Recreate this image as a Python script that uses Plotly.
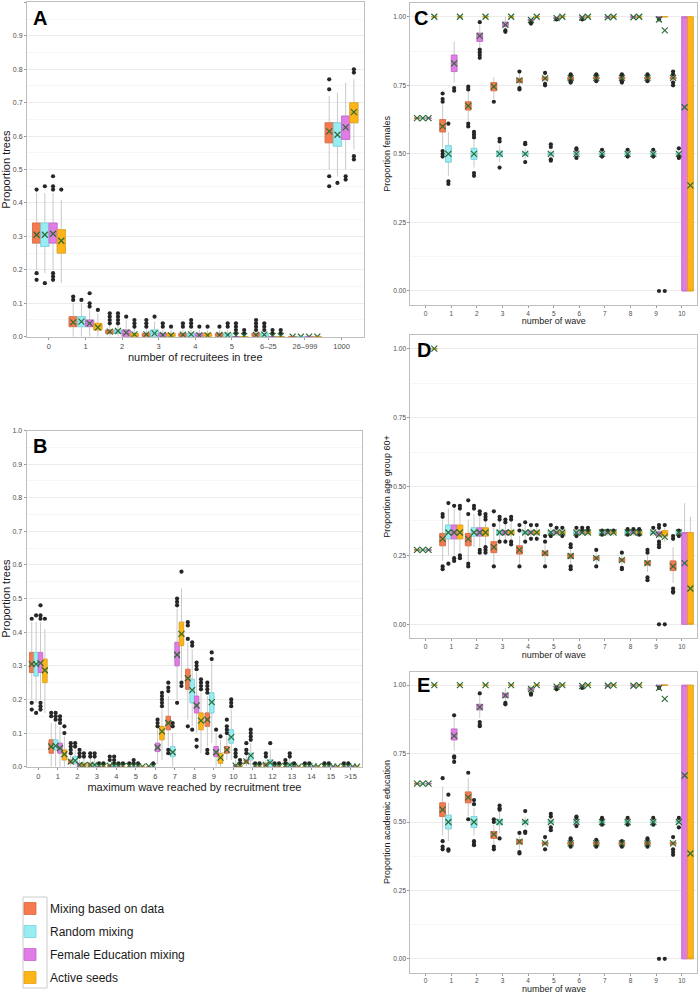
import plotly.graph_objects as go

SERIES = ["Mixing based on data", "Random mixing", "Female Education mixing", "Active seeds"]
FILL = ["#F47B4F", "#98EDF3", "#E07DE5", "#FDB517"]
EDGE = ["#DC6A40", "#74D6DE", "#C866CD", "#E5A00E"]
OFFSETS = [-0.3375, -0.1125, 0.1125, 0.3375]
BOXW = 0.225

# ---------------- Panel A: number of recruitees in tree ----------------
A_CATS = ["0", "1", "2", "3", "4", "5", "6\u201325", "26\u2013999", "1000"]
A_Q1 = [
    [0.28, 0.03, 0.01, 0.00, 0.00, 0.00, 0.00, 0.0, 0.58],
    [0.27, 0.03, 0.01, 0.00, 0.00, 0.00, 0.00, 0.0, 0.57],
    [0.28, 0.03, 0.00, 0.00, 0.00, 0.00, 0.00, 0.0, 0.59],
    [0.25, 0.02, 0.00, 0.00, 0.00, 0.00, 0.00, 0.0, 0.64],
]
A_MED = [
    [0.305, 0.04, 0.015, 0.005, 0.005, 0.005, 0.005, 0.0, 0.61],
    [0.305, 0.045, 0.015, 0.01, 0.005, 0.005, 0.005, 0.0, 0.60],
    [0.31, 0.04, 0.01, 0.005, 0.003, 0.0, 0.0, 0.0, 0.625],
    [0.29, 0.03, 0.005, 0.004, 0.004, 0.0, 0.0, 0.0, 0.67],
]
A_Q3 = [
    [0.34, 0.06, 0.02, 0.01, 0.01, 0.01, 0.01, 0.0, 0.64],
    [0.34, 0.06, 0.02, 0.02, 0.01, 0.01, 0.01, 0.0, 0.64],
    [0.34, 0.05, 0.02, 0.01, 0.01, 0.0, 0.0, 0.0, 0.66],
    [0.32, 0.04, 0.01, 0.01, 0.01, 0.0, 0.0, 0.0, 0.70],
]
A_LO = [
    [0.20, 0.0, 0.0, 0.0, 0.0, 0.0, 0.0, 0.0, 0.50],
    [0.19, 0.0, 0.0, 0.0, 0.0, 0.0, 0.0, 0.0, 0.48],
    [0.20, 0.0, 0.0, 0.0, 0.0, 0.0, 0.0, 0.0, 0.50],
    [0.16, 0.0, 0.0, 0.0, 0.0, 0.0, 0.0, 0.0, 0.56],
]
A_HI = [
    [0.43, 0.10, 0.035, 0.025, 0.02, 0.02, 0.02, 0.0, 0.72],
    [0.43, 0.10, 0.035, 0.045, 0.02, 0.02, 0.02, 0.0, 0.73],
    [0.43, 0.08, 0.05, 0.02, 0.02, 0.0, 0.0, 0.0, 0.76],
    [0.41, 0.07, 0.025, 0.02, 0.02, 0.0, 0.0, 0.0, 0.77],
]
A_MEAN = [
    [0.305, 0.043, 0.015, 0.007, 0.006, 0.005, 0.005, 0.0, 0.614],
    [0.305, 0.045, 0.017, 0.01, 0.007, 0.005, 0.006, 0.0, 0.604],
    [0.308, 0.04, 0.012, 0.005, 0.004, 0.003, 0.002, 0.0, 0.626],
    [0.287, 0.028, 0.007, 0.004, 0.004, 0.002, 0.002, 0.0, 0.672],
]
A_OUT = [
    [[0.44, 0.19, 0.17], [0.12, 0.11], [0.07, 0.06, 0.05, 0.04], [0.05, 0.04, 0.03], [0.04, 0.03], [0.03],
     [0.05, 0.04, 0.03, 0.02], [], [0.77, 0.74, 0.48, 0.45]],
    [[0.45, 0.16], [0.11], [0.07, 0.06, 0.05, 0.04], [0.06], [0.05, 0.04, 0.03], [0.04, 0.03],
     [0.04, 0.03, 0.02], [], [0.46]],
    [[0.48, 0.45, 0.44, 0.19, 0.18, 0.17], [0.13, 0.10, 0.09], [0.06], [0.04, 0.03], [0.03],
     [0.04, 0.03, 0.02, 0.01], [0.02, 0.01], [], [0.48, 0.47]],
    [[0.44], [0.08], [0.05, 0.04, 0.03], [0.03], [0.03], [0.02, 0.01], [0.02, 0.01], [], [0.80, 0.79, 0.54, 0.53]],
]

# ---------------- Panel B: maximum wave reached ----------------
B_CATS = [str(i) for i in range(16)] + [">15"]
B_Q1 = [
    [0.28, 0.04, 0.01, 0.0, 0.0, 0.0, 0.0, 0.11, 0.23, 0.12, 0.04, 0.01, 0.0, 0.0, 0.0, 0.0, 0.0],
    [0.27, 0.05, 0.01, 0.0, 0.0, 0.0, 0.0, 0.03, 0.19, 0.16, 0.07, 0.02, 0.0, 0.0, 0.0, 0.0, 0.0],
    [0.28, 0.04, 0.0, 0.0, 0.0, 0.0, 0.045, 0.30, 0.16, 0.03, 0.0, 0.0, 0.0, 0.0, 0.0, 0.0, 0.0],
    [0.25, 0.02, 0.0, 0.0, 0.0, 0.0, 0.08, 0.36, 0.11, 0.01, 0.0, 0.0, 0.0, 0.0, 0.0, 0.0, 0.0],
]
B_MED = [
    [0.305, 0.06, 0.015, 0.005, 0.0, 0.0, 0.0, 0.13, 0.26, 0.14, 0.05, 0.015, 0.005, 0.0, 0.0, 0.0, 0.0],
    [0.305, 0.06, 0.02, 0.005, 0.0, 0.0, 0.0, 0.04, 0.23, 0.19, 0.09, 0.03, 0.01, 0.005, 0.0, 0.0, 0.0],
    [0.31, 0.055, 0.005, 0.0, 0.0, 0.0, 0.055, 0.335, 0.18, 0.04, 0.0, 0.0, 0.0, 0.0, 0.0, 0.0, 0.0],
    [0.29, 0.035, 0.003, 0.0, 0.0, 0.0, 0.10, 0.39, 0.135, 0.025, 0.0, 0.0, 0.0, 0.0, 0.0, 0.0, 0.0],
]
B_Q3 = [
    [0.34, 0.08, 0.02, 0.01, 0.005, 0.0, 0.0, 0.15, 0.29, 0.16, 0.06, 0.02, 0.01, 0.0, 0.0, 0.0, 0.0],
    [0.34, 0.08, 0.03, 0.01, 0.005, 0.0, 0.0, 0.06, 0.26, 0.22, 0.11, 0.04, 0.02, 0.01, 0.0, 0.0, 0.0],
    [0.34, 0.07, 0.01, 0.0, 0.0, 0.0, 0.07, 0.37, 0.21, 0.06, 0.005, 0.0, 0.0, 0.0, 0.0, 0.0, 0.0],
    [0.32, 0.05, 0.01, 0.0, 0.0, 0.0, 0.12, 0.43, 0.16, 0.04, 0.005, 0.0, 0.0, 0.0, 0.0, 0.0, 0.0],
]
B_LO = [
    [0.20, 0.0, 0.0, 0.0, 0.0, 0.0, 0.0, 0.06, 0.14, 0.06, 0.02, 0.0, 0.0, 0.0, 0.0, 0.0, 0.0],
    [0.19, 0.0, 0.0, 0.0, 0.0, 0.0, 0.0, 0.0, 0.12, 0.07, 0.02, 0.0, 0.0, 0.0, 0.0, 0.0, 0.0],
    [0.20, 0.0, 0.0, 0.0, 0.0, 0.0, 0.01, 0.20, 0.10, 0.0, 0.0, 0.0, 0.0, 0.0, 0.0, 0.0, 0.0],
    [0.16, 0.0, 0.0, 0.0, 0.0, 0.0, 0.02, 0.26, 0.04, 0.0, 0.0, 0.0, 0.0, 0.0, 0.0, 0.0, 0.0],
]
B_HI = [
    [0.43, 0.13, 0.035, 0.025, 0.01, 0.0, 0.0, 0.21, 0.37, 0.21, 0.09, 0.035, 0.02, 0.0, 0.0, 0.0, 0.0],
    [0.43, 0.13, 0.05, 0.025, 0.01, 0.0, 0.0, 0.10, 0.35, 0.31, 0.17, 0.07, 0.05, 0.025, 0.0, 0.0, 0.0],
    [0.43, 0.12, 0.02, 0.0, 0.0, 0.0, 0.11, 0.47, 0.28, 0.10, 0.02, 0.0, 0.0, 0.0, 0.0, 0.0, 0.0],
    [0.41, 0.09, 0.025, 0.0, 0.0, 0.0, 0.17, 0.53, 0.22, 0.08, 0.01, 0.0, 0.0, 0.0, 0.0, 0.0, 0.0],
]
B_MEAN = [
    [0.305, 0.06, 0.015, 0.005, 0.003, 0.002, 0.001, 0.13, 0.263, 0.14, 0.05, 0.016, 0.005, 0.002, 0.001, 0.001, 0.001],
    [0.305, 0.062, 0.018, 0.005, 0.003, 0.002, 0.001, 0.043, 0.228, 0.192, 0.088, 0.033, 0.012, 0.005, 0.002, 0.001, 0.001],
    [0.308, 0.055, 0.005, 0.002, 0.001, 0.001, 0.057, 0.333, 0.182, 0.043, 0.003, 0.001, 0.001, 0.0, 0.0, 0.0, 0.0],
    [0.287, 0.037, 0.004, 0.001, 0.001, 0.0, 0.105, 0.395, 0.137, 0.027, 0.003, 0.001, 0.0, 0.0, 0.0, 0.0, 0.0],
]
B_OUT = [
    [[0.44, 0.19, 0.17], [0.16, 0.15], [0.07, 0.06, 0.05, 0.04], [0.04, 0.03], [0.03, 0.02], [0.01], [],
     [0.25, 0.235, 0.225, 0.05, 0.04], [0.43, 0.42, 0.38, 0.12], [0.25, 0.24, 0.23, 0.22, 0.05, 0.04],
     [0.14, 0.12, 0.11, 0.10], [0.07, 0.05, 0.04], [0.04, 0.03], [0.02, 0.01], [0.01], [0.01], [0.01]],
    [[0.45, 0.16], [0.16, 0.15, 0.14], [0.07, 0.06], [0.04, 0.03], [0.03, 0.02, 0.01], [0.02, 0.01], [0.01],
     [0.13, 0.12], [0.37, 0.36, 0.11], [0.34, 0.32], [0.20, 0.19, 0.18], [0.11, 0.10, 0.09, 0.08], [0.07],
     [0.04, 0.03], [0.01], [0.01], [0.01]],
    [[0.48, 0.45, 0.44, 0.19, 0.18, 0.17], [0.15, 0.14, 0.13], [0.05, 0.04, 0.03], [0.01], [0.01], [0.01],
     [0.14, 0.13, 0.12], [0.50, 0.49, 0.48, 0.19], [0.31, 0.30, 0.29, 0.08, 0.06], [0.11], [0.05, 0.04, 0.03],
     [0.01], [0.01], [0.01], [], [], []],
    [[0.44], [0.12, 0.10], [0.04, 0.03], [0.01], [0.01], [], [0.22, 0.21, 0.20, 0.19, 0.18],
     [0.58, 0.25, 0.24], [0.26, 0.25, 0.24, 0.23], [0.09], [0.02, 0.01], [0.01], [0.01], [], [], [], []],
]

# ---------------- Panels C, D, E: by wave ----------------
WAVES = [str(i) for i in range(11)]

C_Q1 = [
    [0.63, 0.58, 0.66, 0.73, 0.76, 0.77, 0.77, 0.773, 0.773, 0.773, 0.773],
    [0.63, 0.47, 0.48, 0.49, 0.495, 0.495, 0.497, 0.497, 0.497, 0.497, 0.497],
    [0.63, 0.80, 0.91, 0.965, 0.985, 0.993, 0.996, 0.997, 0.997, 0.996, 0.0],
    [1.0, 1.0, 1.0, 1.0, 1.0, 1.0, 1.0, 1.0, 1.0, 1.0, 0.0],
]
C_MED = [
    [0.63, 0.60, 0.675, 0.745, 0.768, 0.775, 0.775, 0.777, 0.777, 0.777, 0.777],
    [0.63, 0.50, 0.50, 0.50, 0.50, 0.50, 0.50, 0.50, 0.50, 0.50, 0.50],
    [0.63, 0.83, 0.93, 0.97, 0.988, 0.995, 0.997, 0.998, 0.998, 0.998, 1.0],
    [1.0, 1.0, 1.0, 1.0, 1.0, 1.0, 1.0, 1.0, 1.0, 1.0, 0.0],
]
C_Q3 = [
    [0.63, 0.625, 0.69, 0.76, 0.775, 0.78, 0.78, 0.78, 0.78, 0.78, 0.78],
    [0.63, 0.53, 0.52, 0.51, 0.505, 0.505, 0.503, 0.503, 0.503, 0.503, 0.503],
    [0.63, 0.86, 0.94, 0.98, 0.99, 0.997, 0.999, 1.0, 1.0, 1.0, 1.0],
    [1.0, 1.0, 1.0, 1.0, 1.0, 1.0, 1.0, 1.0, 1.0, 1.0, 1.0],
]
C_LO = [
    [0.63, 0.52, 0.62, 0.70, 0.745, 0.76, 0.765, 0.768, 0.768, 0.768, 0.765],
    [0.63, 0.42, 0.45, 0.47, 0.48, 0.485, 0.49, 0.49, 0.49, 0.49, 0.49],
    [0.63, 0.76, 0.89, 0.955, 0.978, 0.99, 0.993, 0.995, 0.995, 0.993, 0.0],
    [1.0, 1.0, 1.0, 1.0, 1.0, 1.0, 1.0, 1.0, 1.0, 1.0, 0.0],
]
C_HI = [
    [0.63, 0.68, 0.73, 0.78, 0.79, 0.79, 0.788, 0.785, 0.785, 0.786, 0.79],
    [0.63, 0.58, 0.55, 0.53, 0.52, 0.515, 0.51, 0.51, 0.51, 0.51, 0.51],
    [0.63, 0.91, 0.97, 1.0, 1.0, 1.0, 1.0, 1.0, 1.0, 1.0, 1.0],
    [1.0, 1.0, 1.0, 1.0, 1.0, 1.0, 1.0, 1.0, 1.0, 1.0, 1.0],
]
C_MEAN = [
    [0.63, 0.60, 0.675, 0.745, 0.768, 0.775, 0.776, 0.777, 0.777, 0.777, 0.777],
    [0.63, 0.50, 0.50, 0.50, 0.50, 0.50, 0.50, 0.50, 0.50, 0.50, 0.50],
    [0.63, 0.83, 0.93, 0.97, 0.988, 0.995, 0.997, 0.998, 0.998, 0.99, 0.67],
    [1.0, 1.0, 1.0, 1.0, 1.0, 1.0, 1.0, 1.0, 1.0, 0.95, 0.385],
]
C_OUT = [
    [[], [0.72, 0.70, 0.69, 0.51, 0.50, 0.49], [0.745, 0.735, 0.61, 0.60], [0.69], [0.80, 0.74, 0.735],
     [0.795, 0.755, 0.75], [0.79, 0.785, 0.765, 0.76], [0.79, 0.785, 0.765], [0.79, 0.785, 0.765, 0.76],
     [0.79, 0.785, 0.765], [0.80, 0.79, 0.76, 0.75]],
    [[], [0.61, 0.40, 0.39], [0.58, 0.57, 0.56, 0.43, 0.42], [0.555, 0.545, 0.45], [0.54, 0.535, 0.47],
     [0.535, 0.525, 0.48, 0.475], [0.52, 0.515, 0.485], [0.515, 0.49], [0.515, 0.49], [0.515, 0.49],
     [0.52, 0.49, 0.485]],
    [[], [0.74, 0.73], [0.98, 0.88, 0.87, 0.86, 0.85], [0.95, 0.945], [0.98, 0.975], [0.99], [0.99], [], [],
     [0.99, 0.0], []],
    [[], [], [], [], [], [], [], [], [], [0.0], []],
]

D_Q1 = [
    [0.27, 0.285, 0.285, 0.26, 0.255, 0.25, 0.24, 0.235, 0.228, 0.215, 0.195],
    [0.27, 0.31, 0.32, 0.325, 0.328, 0.33, 0.33, 0.33, 0.33, 0.33, 0.33],
    [0.27, 0.31, 0.32, 0.325, 0.328, 0.33, 0.33, 0.33, 0.33, 0.32, 0.0],
    [1.0, 0.31, 0.32, 0.325, 0.328, 0.33, 0.33, 0.33, 0.33, 0.32, 0.0],
]
D_MED = [
    [0.27, 0.31, 0.31, 0.28, 0.27, 0.258, 0.248, 0.24, 0.233, 0.222, 0.21],
    [0.27, 0.333, 0.333, 0.333, 0.333, 0.333, 0.333, 0.333, 0.333, 0.333, 0.333],
    [0.27, 0.333, 0.333, 0.333, 0.333, 0.333, 0.333, 0.333, 0.333, 0.333, 0.333],
    [1.0, 0.333, 0.333, 0.333, 0.333, 0.333, 0.333, 0.333, 0.333, 0.333, 0.0],
]
D_Q3 = [
    [0.27, 0.33, 0.33, 0.30, 0.285, 0.265, 0.255, 0.245, 0.238, 0.23, 0.23],
    [0.27, 0.36, 0.35, 0.34, 0.338, 0.336, 0.336, 0.336, 0.336, 0.336, 0.336],
    [0.27, 0.36, 0.35, 0.34, 0.338, 0.336, 0.336, 0.336, 0.336, 0.336, 0.333],
    [1.0, 0.36, 0.35, 0.34, 0.338, 0.336, 0.336, 0.336, 0.336, 0.34, 0.333],
]
D_LO = [
    [0.27, 0.23, 0.23, 0.22, 0.22, 0.22, 0.22, 0.22, 0.215, 0.19, 0.15],
    [0.27, 0.25, 0.28, 0.30, 0.31, 0.32, 0.32, 0.32, 0.32, 0.32, 0.32],
    [0.27, 0.25, 0.28, 0.30, 0.31, 0.32, 0.32, 0.32, 0.32, 0.31, 0.0],
    [1.0, 0.26, 0.28, 0.30, 0.31, 0.32, 0.32, 0.32, 0.32, 0.30, 0.0],
]
D_HI = [
    [0.27, 0.38, 0.38, 0.35, 0.32, 0.29, 0.27, 0.26, 0.25, 0.25, 0.28],
    [0.27, 0.42, 0.40, 0.37, 0.36, 0.35, 0.345, 0.345, 0.345, 0.35, 0.345],
    [0.27, 0.42, 0.40, 0.37, 0.36, 0.35, 0.345, 0.345, 0.345, 0.35, 0.44],
    [1.0, 0.41, 0.37, 0.37, 0.36, 0.35, 0.345, 0.345, 0.345, 0.35, 0.39],
]
D_MEAN = [
    [0.27, 0.31, 0.31, 0.28, 0.27, 0.258, 0.248, 0.24, 0.233, 0.222, 0.21],
    [0.27, 0.333, 0.333, 0.333, 0.333, 0.333, 0.333, 0.333, 0.333, 0.333, 0.333],
    [0.27, 0.333, 0.333, 0.333, 0.333, 0.333, 0.333, 0.333, 0.333, 0.325, 0.222],
    [1.0, 0.333, 0.333, 0.333, 0.333, 0.333, 0.333, 0.333, 0.333, 0.317, 0.13],
]
D_OUT = [
    [[], [0.40, 0.39, 0.21, 0.20], [0.45, 0.40, 0.22, 0.21], [0.41, 0.36, 0.21], [0.36, 0.34, 0.21],
     [0.32, 0.30, 0.21], [0.29, 0.28, 0.21, 0.20], [0.27, 0.21], [0.26, 0.205, 0.20], [0.27, 0.26, 0.17, 0.16],
     [0.32, 0.31, 0.13, 0.12, 0.115]],
    [[], [0.44, 0.22], [0.43, 0.42], [0.39, 0.38, 0.30], [0.37, 0.30], [0.36, 0.32], [0.35, 0.32], [0.34, 0.325],
     [0.345, 0.325], [0.35], [0.34, 0.32]],
    [[], [0.43, 0.24, 0.23], [0.41, 0.40, 0.27, 0.26], [0.38, 0.37, 0.30], [0.36, 0.31], [0.35], [0.35, 0.34],
     [0.34], [0.345], [0.36, 0.35, 0.30, 0.29, 0.28, 0.0], []],
    [[], [0.43, 0.42, 0.25, 0.24], [0.40, 0.39, 0.38, 0.28, 0.27, 0.26], [0.39, 0.38, 0.30, 0.29], [0.36, 0.31],
     [0.35, 0.32], [0.35, 0.34], [0.34], [0.345, 0.325], [0.36, 0.0], []],
]

E_Q1 = [
    [0.64, 0.52, 0.57, 0.44, 0.42, 0.418, 0.418, 0.418, 0.418, 0.418, 0.418],
    [0.64, 0.475, 0.48, 0.49, 0.495, 0.497, 0.497, 0.497, 0.497, 0.497, 0.497],
    [0.64, 0.80, 0.91, 0.955, 0.982, 0.993, 0.996, 0.997, 0.997, 0.995, 0.0],
    [1.0, 1.0, 1.0, 1.0, 1.0, 1.0, 1.0, 1.0, 1.0, 1.0, 0.0],
]
E_MED = [
    [0.64, 0.545, 0.59, 0.455, 0.428, 0.422, 0.422, 0.422, 0.422, 0.422, 0.422],
    [0.64, 0.50, 0.50, 0.50, 0.50, 0.50, 0.50, 0.50, 0.50, 0.50, 0.50],
    [0.64, 0.815, 0.92, 0.963, 0.986, 0.995, 0.997, 0.998, 0.998, 0.998, 1.0],
    [1.0, 1.0, 1.0, 1.0, 1.0, 1.0, 1.0, 1.0, 1.0, 1.0, 0.0],
]
E_Q3 = [
    [0.64, 0.57, 0.61, 0.465, 0.435, 0.426, 0.426, 0.426, 0.426, 0.426, 0.426],
    [0.64, 0.525, 0.52, 0.51, 0.505, 0.503, 0.503, 0.503, 0.503, 0.503, 0.503],
    [0.64, 0.84, 0.93, 0.97, 0.99, 0.997, 0.999, 1.0, 1.0, 1.0, 1.0],
    [1.0, 1.0, 1.0, 1.0, 1.0, 1.0, 1.0, 1.0, 1.0, 1.0, 1.0],
]
E_LO = [
    [0.64, 0.45, 0.52, 0.42, 0.40, 0.41, 0.41, 0.41, 0.41, 0.41, 0.41],
    [0.64, 0.43, 0.45, 0.46, 0.48, 0.485, 0.49, 0.49, 0.49, 0.49, 0.49],
    [0.64, 0.76, 0.88, 0.94, 0.975, 0.99, 0.993, 0.995, 0.995, 0.993, 0.0],
    [1.0, 1.0, 1.0, 1.0, 1.0, 1.0, 1.0, 1.0, 1.0, 1.0, 0.0],
]
E_HI = [
    [0.64, 0.63, 0.66, 0.49, 0.45, 0.44, 0.43, 0.43, 0.43, 0.43, 0.435],
    [0.64, 0.57, 0.55, 0.54, 0.52, 0.515, 0.51, 0.51, 0.51, 0.51, 0.51],
    [0.64, 0.88, 0.96, 0.99, 1.0, 1.0, 1.0, 1.0, 1.0, 1.0, 1.0],
    [1.0, 1.0, 1.0, 1.0, 1.0, 1.0, 1.0, 1.0, 1.0, 1.0, 1.0],
]
E_MEAN = [
    [0.64, 0.545, 0.59, 0.455, 0.428, 0.422, 0.422, 0.422, 0.422, 0.422, 0.422],
    [0.64, 0.50, 0.50, 0.50, 0.50, 0.50, 0.50, 0.50, 0.50, 0.50, 0.50],
    [0.64, 0.815, 0.92, 0.963, 0.986, 0.995, 0.997, 0.998, 0.998, 0.99, 0.67],
    [1.0, 1.0, 1.0, 1.0, 1.0, 1.0, 1.0, 1.0, 1.0, 0.95, 0.385],
]
E_OUT = [
    [[], [0.66, 0.43, 0.41, 0.40], [0.68, 0.51], [0.51, 0.50, 0.41, 0.40], [0.46, 0.39, 0.385], [0.445, 0.40],
     [0.44, 0.435, 0.41], [0.435, 0.41], [0.43, 0.41], [0.44, 0.435, 0.41], [0.445, 0.40, 0.39, 0.38]],
    [[], [0.60, 0.40, 0.395], [0.58, 0.565, 0.43, 0.42, 0.415], [0.56, 0.55, 0.545, 0.44], [0.54, 0.465, 0.46],
     [0.53, 0.52, 0.48, 0.47], [0.52, 0.515, 0.485], [0.515, 0.51, 0.49], [0.515, 0.49], [0.515, 0.49],
     [0.515, 0.48]],
    [[], [0.89, 0.74, 0.735, 0.72], [0.97, 0.865, 0.855, 0.85], [0.935, 0.93], [0.97, 0.965], [0.99, 0.985],
     [0.99], [], [], [0.99, 0.0], []],
    [[], [], [], [], [], [], [], [], [], [0.0], []],
]

FONT = "Liberation Sans, Arial, sans-serif"
WHISKER = "#C9C9C9"
MEANCOL = "#2F6B34"

fig = go.Figure()


def add_panel(ax, q1s, meds, q3s, los, his, means, outs, legend):
    xr, yr = "x" + ax, "y" + ax
    for k in range(4):
        n = len(q1s[k])
        pos = [i + OFFSETS[k] for i in range(n)]
        fig.add_trace(go.Box(
            x=pos, q1=q1s[k], median=meds[k], q3=q3s[k], lowerfence=los[k], upperfence=his[k],
            width=BOXW, whiskerwidth=0, boxpoints=False, fillcolor="rgba(0,0,0,0)",
            line=dict(color=WHISKER, width=1), showlegend=False, hoverinfo="skip",
            xaxis=xr, yaxis=yr))
    for k in range(4):
        n = len(q1s[k])
        pos = [i + OFFSETS[k] for i in range(n)]
        fig.add_trace(go.Box(
            x=pos, q1=q1s[k], median=meds[k], q3=q3s[k], lowerfence=q1s[k], upperfence=q3s[k],
            width=BOXW, whiskerwidth=0, boxpoints=False, fillcolor=FILL[k],
            line=dict(color=EDGE[k], width=0.8), name=SERIES[k], legendgroup=SERIES[k],
            showlegend=legend, xaxis=xr, yaxis=yr))
    for k in range(4):
        ox, oy = [], []
        for i, vals in enumerate(outs[k]):
            for v in vals:
                ox.append(i + OFFSETS[k])
                oy.append(v)
        fig.add_trace(go.Scatter(
            x=ox, y=oy, mode="markers", marker=dict(color="#262626", size=4.2),
            showlegend=False, hoverinfo="y", xaxis=xr, yaxis=yr))
    for k in range(4):
        n = len(means[k])
        pos = [i + OFFSETS[k] for i in range(n)]
        fig.add_trace(go.Scatter(
            x=pos, y=means[k], mode="markers",
            marker=dict(symbol="x-thin", size=6, color=MEANCOL, line=dict(color=MEANCOL, width=1.2)),
            showlegend=False, hoverinfo="y", xaxis=xr, yaxis=yr))


add_panel("", A_Q1, A_MED, A_Q3, A_LO, A_HI, A_MEAN, A_OUT, True)
add_panel("2", B_Q1, B_MED, B_Q3, B_LO, B_HI, B_MEAN, B_OUT, False)
add_panel("3", C_Q1, C_MED, C_Q3, C_LO, C_HI, C_MEAN, C_OUT, False)
add_panel("4", D_Q1, D_MED, D_Q3, D_LO, D_HI, D_MEAN, D_OUT, False)
add_panel("5", E_Q1, E_MED, E_Q3, E_LO, E_HI, E_MEAN, E_OUT, False)

W, H = 699, 995


def px_x(a, b):
    return [a / W, b / W]


def px_y(top, bottom):
    return [1 - bottom / H, 1 - top / H]


def xax(dom, cats, title, fsz_tick, fsz_title, anchor):
    n = len(cats)
    return dict(domain=dom, range=[-0.6, n - 0.4], tickmode="array", tickvals=list(range(n)), ticktext=cats,
                showgrid=False, zeroline=False, showline=True, mirror=True, linecolor="#BEBEBE", linewidth=1,
                ticks="outside", ticklen=2, tickcolor="#999999",
                tickfont=dict(size=fsz_tick, color="#4D4D4D", family=FONT),
                title=dict(text=title, font=dict(size=fsz_title, color="#1A1A1A", family=FONT), standoff=0),
                anchor=anchor, automargin=False, fixedrange=True)


def yax(dom, rng, dtick, fmt, minor, title, fsz_tick, fsz_title, anchor):
    return dict(domain=dom, range=rng, dtick=dtick, tick0=0, tickformat=fmt, showgrid=True, gridcolor="#EBEBEB",
                gridwidth=1, minor=dict(dtick=minor, tick0=0, showgrid=True, gridcolor="#F6F6F6", gridwidth=0.5),
                zeroline=False, showline=True, mirror=True, linecolor="#BEBEBE", linewidth=1,
                ticks="outside", ticklen=2, tickcolor="#999999",
                tickfont=dict(size=fsz_tick, color="#4D4D4D", family=FONT),
                title=dict(text=title, font=dict(size=fsz_title, color="#1A1A1A", family=FONT), standoff=1),
                anchor=anchor, automargin=False, fixedrange=True)


fig.update_layout(
    width=W, height=H, margin=dict(l=0, r=0, t=0, b=0), autosize=False,
    paper_bgcolor="white", plot_bgcolor="white", boxmode="overlay",
    font=dict(family=FONT, color="#1A1A1A"),
    xaxis=xax(px_x(27, 363.5), A_CATS, "number of recruitees in tree", 7.5, 11, "y"),
    yaxis=yax(px_y(2.4, 336.7), [0, 1], 0.1, ".1f", 0.05, "Proportion trees", 7, 11, "x"),
    xaxis2=xax(px_x(26.6, 362.2), B_CATS, "maximum wave reached by recruitment tree", 7.5, 11, "y2"),
    yaxis2=yax(px_y(430.5, 766.7), [0, 1], 0.1, ".1f", 0.05, "Proportion trees", 7, 11, "x2"),
    xaxis3=xax(px_x(410.3, 697.1), WAVES, "number of wave", 6.5, 9, "y3"),
    yaxis3=yax(px_y(3.0, 304.7), [-0.05, 1.05], 0.25, ".2f", 0.125, "Proportion females", 6.5, 9, "x3"),
    xaxis4=xax(px_x(410.3, 697.1), WAVES, "number of wave", 6.5, 9, "y4"),
    yaxis4=yax(px_y(334.9, 638.1), [-0.05, 1.05], 0.25, ".2f", 0.125, "Proportion age group 60+", 6.5, 9, "x4"),
    xaxis5=xax(px_x(410.3, 697.1), WAVES, "", 6.5, 9, "y5"),
    yaxis5=yax(px_y(671.5, 972.5), [-0.05, 1.05], 0.25, ".2f", 0.125, "Proportion academic education", 6.5, 9, "x5"),
    legend=dict(x=10 / W, y=1 - 894 / H, xanchor="left", yanchor="top", bgcolor="rgba(0,0,0,0)",
                borderwidth=0, font=dict(size=12, family=FONT, color="#1A1A1A"),
                traceorder="grouped", tracegroupgap=4, itemwidth=30),
    showlegend=True,
    shapes=[dict(type="rect", xref="paper", yref="paper", x0=23 / W, x1=47 / W, y0=1 - 988 / H, y1=1 - 897 / H,
                 line=dict(color="#CCCCCC", width=1), fillcolor="rgba(0,0,0,0)", layer="below")],
)

# x-axis title of panel E (placed explicitly: there is no room below the figure edge)
fig.add_annotation(text="number of wave", x=(410.3 + 697.1) / 2 / W, y=0, xref="paper", yref="paper",
                   xanchor="center", yanchor="bottom", showarrow=False, borderpad=0,
                   font=dict(size=9, family=FONT, color="#1A1A1A"))

for lab, xp, yp in [("A", 31, 5), ("B", 31, 433), ("C", 412, 5), ("D", 415, 337), ("E", 415, 672)]:
    fig.add_annotation(text="<b>" + lab + "</b>", x=xp / W, y=1 - yp / H, xref="paper", yref="paper",
                       xanchor="left", yanchor="top", showarrow=False,
                       font=dict(size=20, family=FONT, color="black"))

fig.write_html("out.html", config={"displayModeBar": False},
               post_script="document.body.style.margin='0px';document.body.style.padding='0px';"
                           "document.body.style.overflow='hidden';")
